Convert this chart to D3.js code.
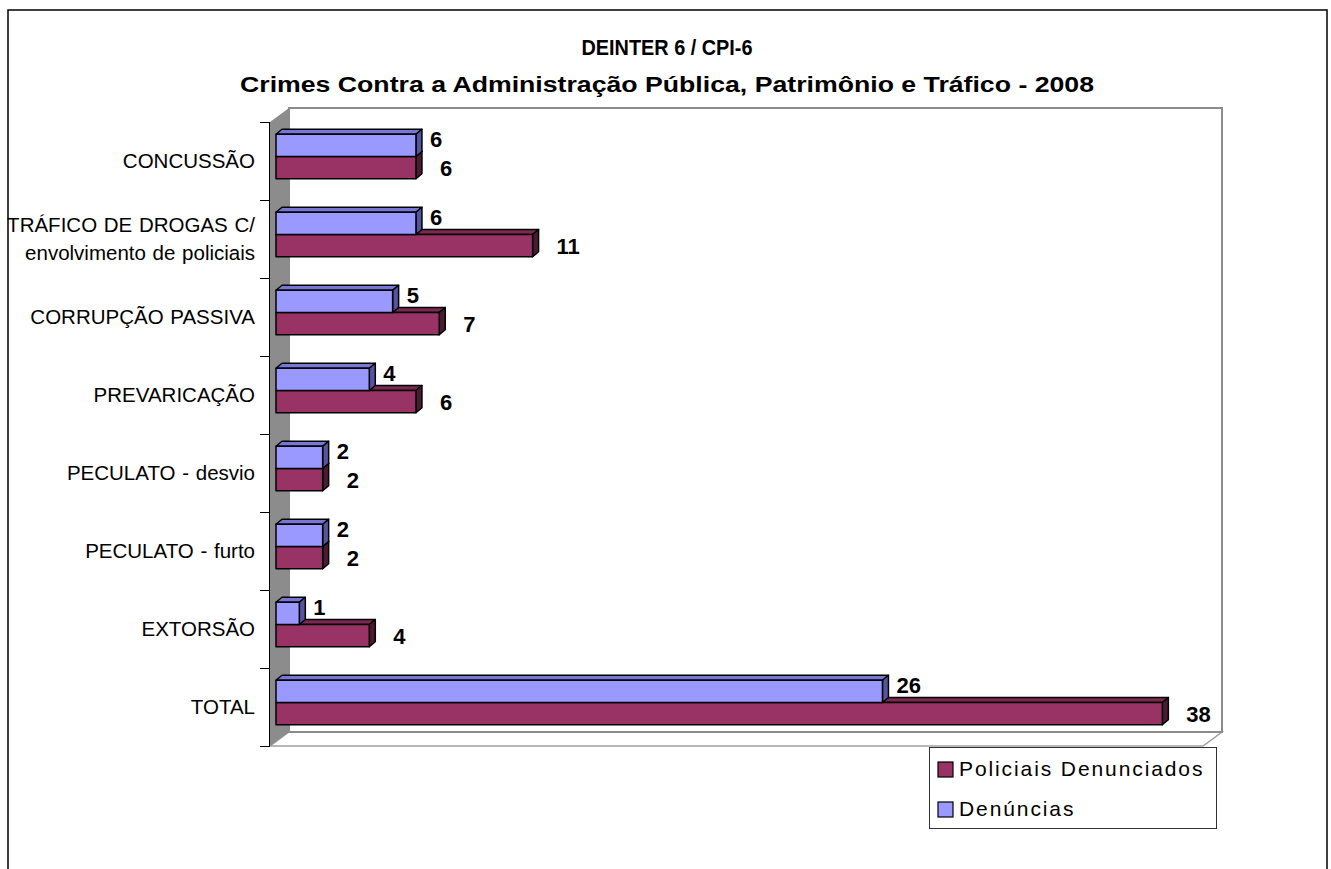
<!DOCTYPE html>
<html>
<head>
<meta charset="utf-8">
<script src="https://cdn.jsdelivr.net/npm/d3@7/dist/d3.min.js"></script>
<style>
  html, body { margin: 0; padding: 0; background: #fff; }
  svg { display: block; font-family: Arial, "Liberation Sans", sans-serif; }
</style>
</head>
<body>
<svg id="chart" width="1331" height="869"></svg>
<script>
// ------------------------------------------------------------
// Data
// ------------------------------------------------------------
var titleLines = ['DEINTER 6 / CPI-6',
                  'Crimes Contra a Administração Pública, Patrimônio e Tráfico - 2008'];

var categories = ['CONCUSSÃO',
                  'TRÁFICO DE DROGAS C/|envolvimento de policiais',
                  'CORRUPÇÃO PASSIVA',
                  'PREVARICAÇÃO',
                  'PECULATO - desvio',
                  'PECULATO - furto',
                  'EXTORSÃO',
                  'TOTAL'];

var seriesNames = ['Denúncias', 'Policiais Denunciados'];
var denuncias   = [6, 6, 5, 4, 2, 2, 1, 26];
var policiais   = [6, 11, 7, 6, 2, 2, 4, 38];
var legendOrder = ['Policiais Denunciados', 'Denúncias'];

// ------------------------------------------------------------
// Layout
// ------------------------------------------------------------
var svg = d3.select('#chart');

var front = {left: 270, right: 1203, top: 122, bottom: 746}
  , wallDepth = {dx: 19, dy: -14}
  , barShift = {dx: 6, dy: -4.5}
  , barDepth = {dx: 6, dy: -5}
  ;

var colors = {
  'Denúncias':             {front: '#9999ff', top: '#7777d6', side: '#55559f'},
  'Policiais Denunciados': {front: '#993366', top: '#7a2952', side: '#4d1a33'}
};

// label offsets per series (Excel nudges the 3D labels differently)
var labelNudge = {
  'Denúncias':             {dx: 8, dy: -6},
  'Policiais Denunciados': {dx: 18, dy: 0}
};

var x = d3.scaleLinear().domain([0, 40]).range([front.left, front.right]);
var y = d3.scaleBand().domain(categories).range([front.top, front.bottom]);
var ySeries = d3.scaleBand().domain(seriesNames)
    .range([0, y.bandwidth()]).paddingInner(0).paddingOuter(0.75);

var rows = categories.map(function(c, i) {
  return {cat: c, values: [
    {name: 'Denúncias', value: denuncias[i]},
    {name: 'Policiais Denunciados', value: policiais[i]}
  ]};
});

// outer frame
svg.append('rect')
    .attr('x', 8).attr('y', 10).attr('width', 1319).attr('height', 880)
    .attr('fill', '#fff').attr('stroke', '#000').attr('stroke-width', 1.5);

// title
svg.append('text')
    .attr('x', 667).attr('y', 55)
    .attr('text-anchor', 'middle')
    .attr('font-size', '22px').attr('font-weight', 'bold')
    .attr('textLength', 171).attr('lengthAdjust', 'spacingAndGlyphs')
    .text(titleLines[0]);

svg.append('text')
    .attr('x', 667).attr('y', 92)
    .attr('text-anchor', 'middle')
    .attr('font-size', '22px').attr('font-weight', 'bold')
    .attr('textLength', 854).attr('lengthAdjust', 'spacingAndGlyphs')
    .text(titleLines[1]);

// ------------------------------------------------------------
// Walls
// ------------------------------------------------------------
function pts(a) { return a.map(function(p) { return p.join(','); }).join(' '); }

var bx0 = front.left + wallDepth.dx, bx1 = front.right + wallDepth.dx,
    by0 = front.top + wallDepth.dy, by1 = front.bottom + wallDepth.dy;

// floor
svg.append('polygon')
    .attr('points', pts([[front.left, front.bottom], [bx0, by1], [bx1, by1], [front.right, front.bottom]]))
    .attr('fill', '#fff').attr('stroke', '#a0a0a0').attr('stroke-width', 1.5);

// back wall
svg.append('rect')
    .attr('x', bx0).attr('y', by0).attr('width', bx1 - bx0).attr('height', by1 - by0)
    .attr('fill', '#fff').attr('stroke', '#8c8c8c').attr('stroke-width', 2);

// left wall
svg.append('polygon')
    .attr('points', pts([[front.left, front.top], [bx0, by0], [bx0, by1], [front.left, front.bottom]]))
    .attr('fill', '#8c8c8c');

// category axis
svg.append('line')
    .attr('x1', front.left - 0.5).attr('x2', front.left - 0.5)
    .attr('y1', front.top).attr('y2', front.bottom + 1)
    .attr('stroke', '#000').attr('stroke-width', 1);

var tickYs = categories.map(function(c) { return y(c); }).concat([front.bottom]);
svg.selectAll('line.tick').data(tickYs).enter().append('line')
    .attr('class', 'tick')
    .attr('x1', front.left - 10).attr('x2', front.left)
    .attr('y1', function(d) { return d + 0.5; }).attr('y2', function(d) { return d + 0.5; })
    .attr('stroke', '#000').attr('stroke-width', 1);

// category labels
var catLabels = svg.selectAll('text.cat').data(categories).enter().append('text')
    .attr('class', 'cat')
    .attr('text-anchor', 'end')
    .attr('font-size', '20.5px')
    .attr('word-spacing', '1px')
    .attr('fill', '#000');

catLabels.each(function(c) {
  var lines = c.split('|'),
      cy = y(c) + y.bandwidth() / 2,
      el = d3.select(this);
  lines.forEach(function(l, i) {
    el.append('tspan')
        .attr('x', 255)
        .attr('y', cy + 7 + (i - (lines.length - 1) / 2) * 28)
        .text(l);
  });
});

// ------------------------------------------------------------
// Bars (3D)
// ------------------------------------------------------------
function barFaces(d, cat) {
  var x0 = x(0) + barShift.dx,
      x1 = x(d.value) + barShift.dx,
      y0 = y(cat) + ySeries(d.name) + barShift.dy,
      y1 = y0 + ySeries.bandwidth(),
      dx = barDepth.dx, dy = barDepth.dy;
  return {
    front: [[x0, y0], [x1, y0], [x1, y1], [x0, y1]],
    top:   [[x0, y0], [x0 + dx, y0 + dy], [x1 + dx, y0 + dy], [x1, y0]],
    side:  [[x1, y0], [x1 + dx, y0 + dy], [x1 + dx, y1 + dy], [x1, y1]],
    x1: x1, yc: (y0 + y1) / 2
  };
}

// draw maroon (lower) before blue so blue covers the shared top face
var drawOrder = ['Policiais Denunciados', 'Denúncias'];
var barLayer = svg.append('g').attr('class', 'bars');

rows.slice().reverse().forEach(function(r) {
  drawOrder.forEach(function(name) {
    var d = r.values.filter(function(v) { return v.name === name; })[0],
        f = barFaces(d, r.cat),
        c = colors[name],
        g = barLayer.append('g');
    ['top', 'side', 'front'].forEach(function(k) {
      g.append('polygon')
          .attr('points', pts(f[k]))
          .attr('fill', c[k])
          .attr('stroke', '#000').attr('stroke-width', 1.5)
          .attr('stroke-linejoin', 'round');
    });
  });
});

// value labels
rows.forEach(function(r) {
  r.values.forEach(function(d) {
    var f = barFaces(d, r.cat),
        n = labelNudge[d.name];
    svg.append('text')
        .attr('x', f.x1 + barDepth.dx + n.dx)
        .attr('y', f.yc + 8 + n.dy)
        .attr('font-size', '22px').attr('font-weight', 'bold')
        .text(d.value);
  });
});

// ------------------------------------------------------------
// Legend
// ------------------------------------------------------------
var legend = svg.append('g').attr('transform', 'translate(929,747)');
legend.append('rect')
    .attr('x', 0.5).attr('y', 0.5).attr('width', 287).attr('height', 81)
    .attr('fill', '#fff').attr('stroke', '#333').attr('stroke-width', 1);

var items = legend.selectAll('g.item').data(legendOrder).enter().append('g')
    .attr('class', 'item')
    .attr('transform', function(d, i) { return 'translate(9,' + (15 + i * 40) + ')'; });
items.append('rect')
    .attr('width', 15).attr('height', 15)
    .attr('fill', function(d) { return colors[d].front; })
    .attr('stroke', '#000').attr('stroke-width', 1.2);
items.append('text')
    .attr('x', 21).attr('y', 14)
    .attr('font-size', '21px').attr('letter-spacing', '1.9px')
    .text(function(d) { return d; });
</script>
</body>
</html>
